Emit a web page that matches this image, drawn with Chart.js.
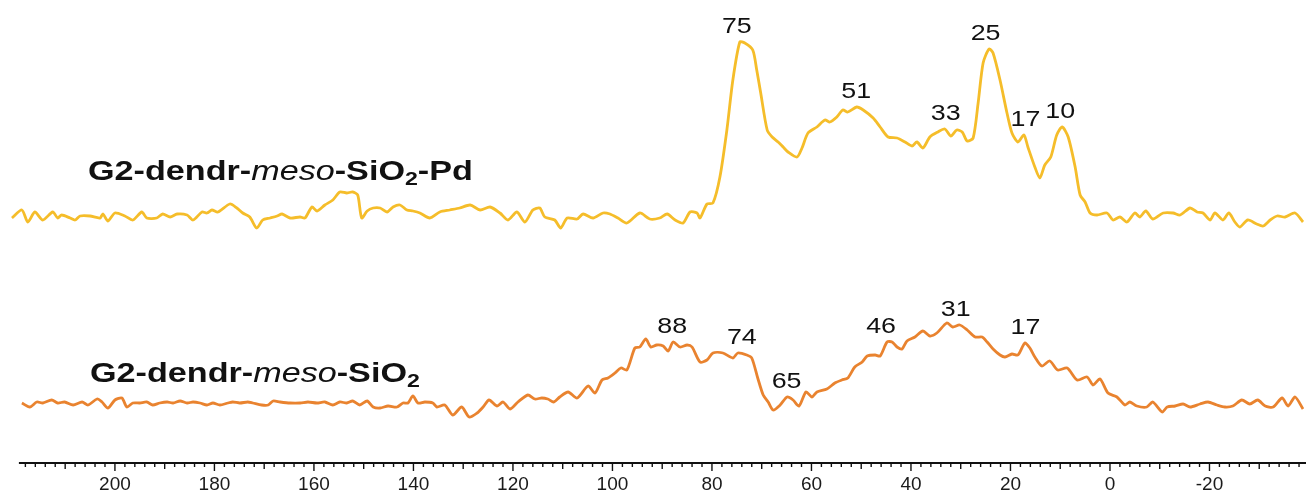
<!DOCTYPE html>
<html>
<head>
<meta charset="utf-8">
<script src="https://cdn.jsdelivr.net/npm/chart.js@4"></script>
<style>
  html, body { margin: 0; padding: 0; background: #fff; }
  #wrap { width: 1306px; height: 497px; }
</style>
</head>
<body>
<div id="wrap"><canvas id="chart" width="1306" height="497"></canvas></div>
<script>
// chemical shift (ppm) and signal height
const pdShift = [220.7,218.7,217.5,216.1,214.5,212.5,211.5,210.7,209.0,208.0,207.0,205.0,203.0,202.4,201.4,200.0,198.0,196.4,194.6,193.6,191.6,190.4,188.9,187.5,185.5,184.3,182.5,181.5,180.5,179.3,176.9,175.5,174.3,172.9,171.5,170.3,168.8,167.4,166.4,164.8,162.8,161.8,160.4,159.4,157.8,156.2,154.8,153.4,152.2,151.2,150.4,149.3,148.1,146.7,145.3,144.1,142.7,141.3,140.1,138.7,136.7,134.7,132.7,130.7,128.6,126.6,124.6,122.6,121.0,119.2,117.6,116.0,114.6,113.6,111.6,110.4,109.1,107.1,105.9,103.9,101.9,100.5,98.9,97.1,94.5,92.5,90.5,89.0,87.4,85.8,84.4,83.0,82.4,81.0,79.8,78.4,77.0,75.8,74.4,73.4,71.8,71.0,70.2,68.9,67.9,66.7,65.7,64.7,62.9,61.9,60.7,58.9,57.3,56.3,54.9,53.7,52.7,50.9,49.6,47.6,46.2,44.6,42.8,41.2,39.8,38.8,37.6,36.2,34.6,33.2,32.0,30.8,29.7,28.7,27.5,26.5,25.5,24.3,23.5,22.1,20.7,19.7,18.5,17.3,16.5,15.1,14.1,13.1,11.9,10.7,9.6,8.4,7.0,6.0,5.0,4.0,2.6,0.6,-0.6,-2.0,-3.4,-5.0,-6.0,-7.2,-8.6,-10.7,-12.7,-14.1,-16.1,-17.5,-18.7,-20.1,-21.1,-22.7,-23.9,-25.1,-26.1,-27.7,-29.5,-30.8,-32.2,-33.6,-35.2,-37.2,-38.8];
const pdSignal = [-3,5,-7,3,-5,3,-3,0,-3,-5,-1,-1,-3,1,-6,2,-1,-5,3,-3,-3,1,-2,1,0,-5,3,2,5,3,11,7,2,-2,-13,-5,-3,-1,1,-3,-2,-3,8,4,10,15,23,22,23,20,-3,4,7,7,3,8,10,5,4,2,-3,3,5,7,10,5,8,2,-5,3,-7,5,7,-2,-5,-13,-3,-4,1,-3,2,1,-3,-8,2,-4,-3,1,-5,-8,3,2,-3,11,12,38,85,135,173,172,165,145,122,85,78,73,68,63,58,67,82,88,95,93,98,105,103,108,105,97,88,78,77,73,69,73,67,78,83,86,79,85,83,74,77,112,152,166,162,135,102,82,73,80,68,48,37,50,58,80,88,78,48,20,13,2,0,2,-5,-2,-7,2,-2,4,-4,2,2,0,7,3,2,-5,2,-5,2,-7,-12,-5,-9,-11,-5,-1,-2,2,-7];

const siShift = [218.7,217.1,215.7,214.5,212.7,211.5,210.1,208.4,206.6,205.4,203.6,202.6,201.4,200.0,198.6,197.6,196.4,195.0,193.6,192.4,191.0,189.5,188.3,186.9,185.5,184.3,182.9,181.5,180.3,178.9,177.3,176.3,174.9,173.3,172.3,170.5,169.2,168.2,166.8,164.8,162.8,161.2,159.4,157.8,156.2,154.8,153.4,152.2,150.8,149.3,148.1,146.7,145.1,143.3,142.1,141.1,140.1,139.1,137.7,136.1,135.3,133.7,132.1,130.3,128.8,127.2,126.0,124.8,123.2,122.0,120.6,119.0,117.0,115.6,114.2,113.0,111.8,110.6,108.9,107.1,104.9,103.5,102.1,100.9,99.5,98.3,97.1,95.5,94.5,93.3,92.3,91.1,89.8,88.8,87.8,86.4,85.0,84.0,82.4,81.0,79.8,77.8,75.8,74.8,73.0,72.0,70.8,69.7,68.7,67.7,66.3,64.9,63.7,62.5,61.1,59.9,58.9,56.9,55.3,53.9,52.7,51.3,49.8,48.8,47.2,46.2,44.8,43.8,42.8,41.8,40.8,39.2,37.6,36.2,34.8,32.8,31.6,30.2,28.7,27.1,25.7,24.7,23.5,22.1,21.1,19.7,18.5,17.1,16.1,15.1,13.7,12.1,10.5,8.6,6.6,4.6,3.4,2.0,0.4,-1.4,-3.0,-4.0,-5.4,-7.4,-8.6,-10.5,-11.5,-13.1,-14.7,-16.1,-18.1,-19.7,-21.5,-23.1,-24.7,-26.5,-28.1,-29.7,-31.2,-32.8,-34.6,-35.8,-37.2,-38.8];
const siSignal = [2,-2,3,2,5,2,3,0,3,0,6,3,-3,5,7,-2,2,2,3,0,2,3,2,4,2,3,2,0,2,0,2,3,2,3,2,0,0,4,3,2,2,3,2,3,0,3,2,4,0,4,-2,-3,-1,-2,2,2,9,2,3,2,-2,0,-10,-2,-12,-8,-2,5,-1,3,-4,3,10,6,7,6,3,8,13,7,19,12,25,27,32,37,35,57,58,66,58,60,59,54,63,58,60,58,43,45,52,52,47,52,50,47,27,10,3,-5,0,8,5,-1,13,8,13,16,22,25,27,38,43,49,50,49,63,63,58,56,64,68,74,69,72,82,78,80,75,68,68,63,56,50,48,51,50,62,57,48,39,44,35,37,25,28,20,26,12,8,0,3,-1,-2,3,-7,-2,-1,1,-2,1,3,0,-2,-1,5,1,5,-1,-2,7,-1,8,-4];

const axisLabels = [200, 180, 160, 140, 120, 100, 80, 60, 40, 20, 0, -20];
const pdPeaks = [75, 51, 33, 25, 17, 10];
const siPeaks = [88, 74, 65, 46, 31, 17];
const pdName = ['G2-dendr-', 'meso', '-SiO', '2', '-Pd'];
const siName = ['G2-dendr-', 'meso', '-SiO', '2'];

const PD_COLOR = '#F5BD2A';
const SI_COLOR = '#E9832F';
const PD_BASE = 248;   // vertical offset of the upper trace
const SI_BASE = 58;    // vertical offset of the lower trace
const STRETCH = 1.22;  // the original figure is drawn a little wide

function drawWide(ctx, text, x, y, font, align) {
  ctx.save();
  ctx.font = font;
  const w = ctx.measureText(text).width * STRETCH;
  let left = x;
  if (align === 'center') left = x - w / 2;
  ctx.translate(left, y);
  ctx.scale(STRETCH, 1);
  ctx.textAlign = 'left';
  ctx.fillText(text, 0, 0);
  ctx.restore();
  return w;
}

function drawName(ctx, parts, x, y) {
  const bold = 'bold 28px "Liberation Sans", Arial, sans-serif';
  const ital = 'italic 28px "Liberation Sans", Arial, sans-serif';
  const sub = 'bold 19px "Liberation Sans", Arial, sans-serif';
  let cx = x;
  ctx.fillStyle = '#111';
  ctx.textBaseline = 'alphabetic';
  parts.forEach((p, i) => {
    let font = bold, dy = 0;
    if (p === 'meso') font = ital;
    if (i > 0 && parts[i - 1] === '-SiO') { font = sub; dy = 5; }
    cx += drawWide(ctx, p, cx, y + dy, font, 'left');
  });
}

function peakLabels(ctx, xs, ys, peaks, shift, signal, base) {
  ctx.fillStyle = '#111';
  ctx.textBaseline = 'bottom';
  peaks.forEach(p => {
    let top = -Infinity;
    shift.forEach((s, i) => { if (Math.abs(s - p) <= 1.5) top = Math.max(top, signal[i]); });
    const px = xs.getPixelForValue(p);
    const py = ys.getPixelForValue(base + top);
    drawWide(ctx, String(p), px, py - 4, '22px "Liberation Sans", Arial, sans-serif', 'center');
  });
}

const decor = {
  id: 'decor',
  afterDraw(chart) {
    const ctx = chart.ctx, xs = chart.scales.x, ys = chart.scales.y;
    const axisY = chart.chartArea.bottom;
    ctx.save();
    // axis line and tick marks
    ctx.strokeStyle = '#111';
    ctx.lineWidth = 2;
    ctx.beginPath();
    ctx.moveTo(xs.getPixelForValue(219.3), axisY);
    ctx.lineTo(xs.right, axisY);
    ctx.stroke();
    ctx.lineWidth = 1.4;
    for (let v = -38; v <= 218; v += 2) {
      const len = v % 20 === 0 ? 8 : (v % 10 === 0 ? 6 : 4);
      const x = xs.getPixelForValue(v);
      ctx.beginPath();
      ctx.moveTo(x, axisY);
      ctx.lineTo(x, axisY + len);
      ctx.stroke();
    }
    peakLabels(ctx, xs, ys, pdPeaks, pdShift, pdSignal, PD_BASE);
    peakLabels(ctx, xs, ys, siPeaks, siShift, siSignal, SI_BASE);
    drawName(ctx, pdName, 88, 180);
    drawName(ctx, siName, 90, 382);
    ctx.restore();
  }
};

new Chart(document.getElementById('chart'), {
  type: 'line',
  data: {
    datasets: [
      {
        data: pdShift.map((s, i) => ({ x: s, y: PD_BASE + pdSignal[i] })),
        borderColor: PD_COLOR,
        borderWidth: 2.8,
        pointRadius: 0,
        tension: 0.25
      },
      {
        data: siShift.map((s, i) => ({ x: s, y: SI_BASE + siSignal[i] })),
        borderColor: SI_COLOR,
        borderWidth: 2.8,
        pointRadius: 0,
        tension: 0.25
      }
    ]
  },
  options: {
    responsive: false,
    animation: false,
    layout: { padding: { top: 0, bottom: 2, left: 0, right: 0 } },
    plugins: { legend: { display: false }, tooltip: { enabled: false } },
    scales: {
      x: {
        type: 'linear',
        reverse: true,
        min: -39.4,
        max: 223.1,
        afterBuildTicks(scale) {
          scale.ticks = axisLabels.map(v => ({ value: v }));
        },
        afterFit(scale) {
          scale.height = 32;
        },
        grid: { display: false, drawTicks: false },
        border: { display: false },
        ticks: {
          autoSkip: false,
          maxRotation: 0,
          padding: 10,
          color: '#1a1a1a',
          font: { family: '"Liberation Sans", Arial, sans-serif', size: 19 }
        }
      },
      y: {
        display: false,
        min: 0,
        max: 463
      }
    }
  },
  plugins: [decor]
});
</script>
</body>
</html>
